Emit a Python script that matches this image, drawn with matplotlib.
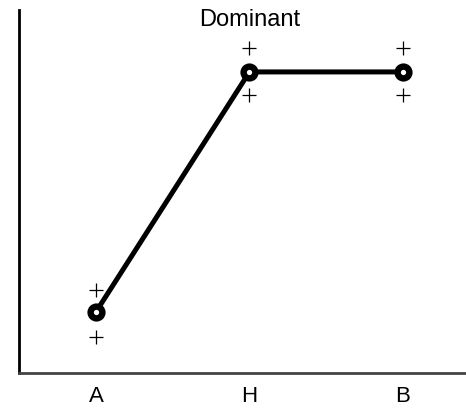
import matplotlib.pyplot as plt

plt.rcParams['font.family'] = ['Liberation Sans', 'DejaVu Sans']

genotypes = ['A', 'H', 'B']
means = [0.168, 0.829, 0.829]
upper = [0.229, 0.895, 0.895]
lower = [0.099, 0.766, 0.766]

fig = plt.figure(figsize=(4.66, 4.09), dpi=100)
ax = fig.add_axes([0.041, 0.088, 0.959, 0.888])

x = list(range(len(genotypes)))
ax.plot(x, means, color='black', lw=3.6, zorder=2)
ax.plot(x, means, 'o', ms=8.5, mfc='white', mec='black', mew=4.6, zorder=3)
ax.plot(x, upper, '+', color='black', ms=9.5, mew=0.9)
ax.plot(x, lower, '+', color='black', ms=9.5, mew=0.9)

ax.text(1, 0.972, 'Dominant', ha='center', va='center', fontsize=17)

ax.set_xlim(-0.5, 2.41)
ax.set_ylim(0, 1)
ax.set_xticks(x)
ax.set_xticklabels(genotypes, fontsize=16)
ax.tick_params(axis='x', length=0, pad=9)
ax.set_yticks([])
for s in ['top', 'right']:
    ax.spines[s].set_visible(False)
ax.spines['left'].set_linewidth(2)
ax.spines['bottom'].set_linewidth(2)
ax.spines['bottom'].set_color('#444444')

fig.savefig('out.png', dpi=100)
